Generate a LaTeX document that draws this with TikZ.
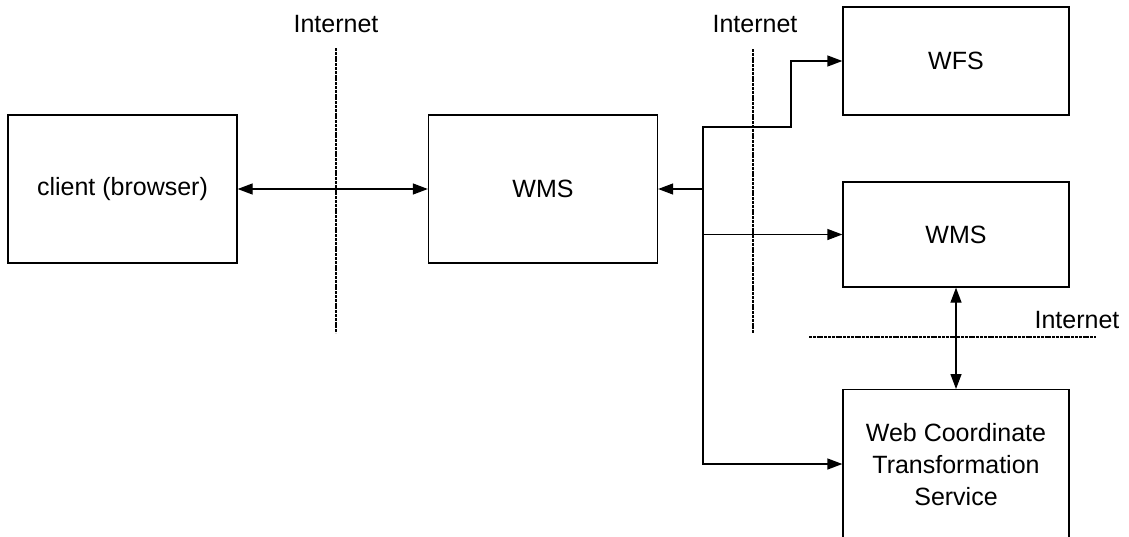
\documentclass[tikz,border=0pt]{standalone}
\usepackage{fontspec}
\setmainfont{Liberation Sans}
\usetikzlibrary{arrows.meta}

\begin{document}
\begin{tikzpicture}[x=1pt,y=-1pt,
    box/.style={draw,line width=1.3pt,align=center,font=\fontsize{25}{32}\selectfont},
    link/.style={line width=1.3pt,line cap=rect,-{Triangle[length=15pt,width=11pt]}},
    duplex/.style={link,{Triangle[length=15pt,width=11pt]}-{Triangle[length=15pt,width=11pt]}},
    border/.style={line width=1.1pt,dash pattern=on 3pt off 0.8pt},
    net/.style={anchor=base,font=\fontsize{25}{32}\selectfont}]
  \useasboundingbox (0,0) rectangle (1129,536);
  % services
  \node[box,minimum width=229pt,minimum height=148pt] (client) at (122.5,189) {client (browser)};
  \node[box,minimum width=229pt,minimum height=148pt] (wmsc) at (543,189) {WMS};
  \node[box,minimum width=226pt,minimum height=108pt] (wfs) at (956,61) {WFS};
  \node[box,minimum width=226pt,minimum height=105pt] (wmsr) at (956,234.5) {WMS};
  \node[box,minimum width=226pt,minimum height=150pt,anchor=north] (wcts) at (956,389)
    {Web Coordinate\\Transformation\\Service};
  % internet borders
  \draw[border] (336,48) -- (336,333);
  \draw[border] (753,49) -- (753,333);
  \draw[border] (809,337) -- (1096,337);
  \node[net] (inet1) at (336,32) {Internet};
  \node[net] (inet2) at (755,32) {Internet};
  \node[net] (inet3) at (1077,328) {Internet};
  % connectors
  \coordinate (bus) at (703,189);
  \coordinate (bustop) at (703,127);
  \coordinate (busbot) at (703,464);
  \coordinate (jog) at (791,127);
  \draw[duplex] (client) -- (wmsc);
  \draw[link] (bus) -- (wmsc.east);
  \draw[link] (busbot) -- (bustop) -- (jog) |- (wfs.west);
  \draw[link] (bus |- wmsr.west) -- (wmsr.west);
  \draw[link] (busbot) -- (wcts.west |- busbot);
  \draw[duplex] (wmsr) -- (wcts);
\end{tikzpicture}
\end{document}
